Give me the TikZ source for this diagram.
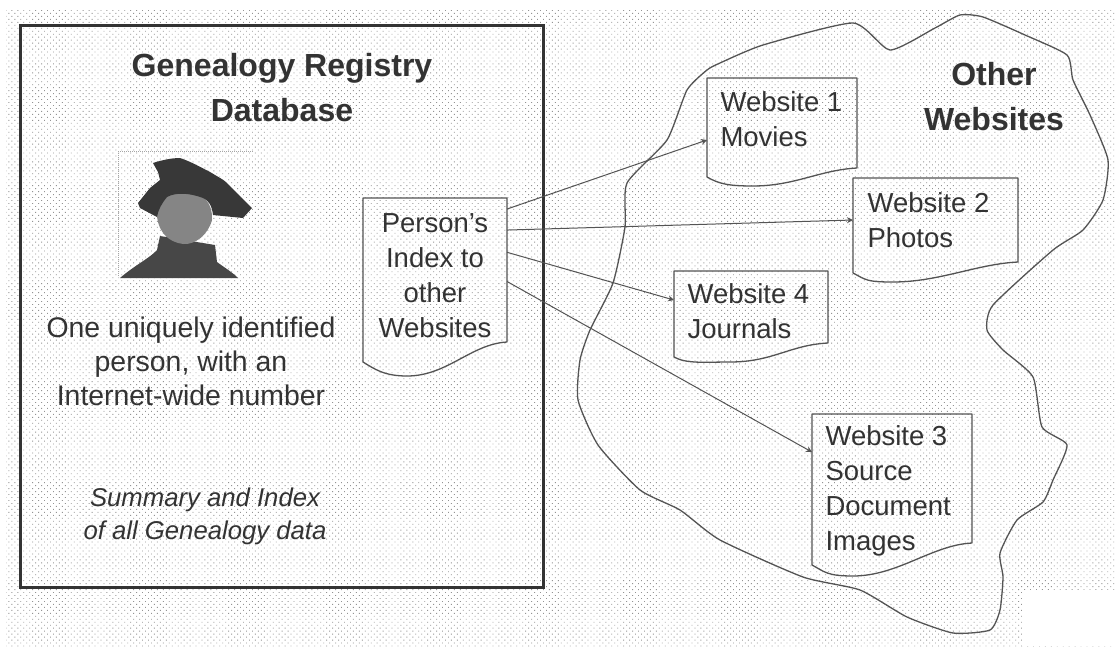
\documentclass[tikz,border=0pt]{standalone}
\usepackage{fontspec}
\setmainfont{Liberation Sans}
\usetikzlibrary{calc,arrows.meta,patterns.meta}
\definecolor{ink}{gray}{0.2}
\definecolor{wire}{gray}{0.33}
\tikzset{
  page/.style={pattern={Dots[distance=4.2pt,radius=0.62pt,angle=45]},pattern color=black!42},
  frame/.style={draw=ink,line width=3pt,outer sep=0pt,inner sep=0pt},
  docline/.style={draw=wire,line width=1.3pt,line join=round},
  doc/.style={inner sep=0pt,outer sep=0pt},
  cloud/.style={draw=wire,line width=1.3pt,line join=round},
  conn/.style={draw=wire,line width=1pt,-{Stealth[length=6pt,width=6pt]}},
  title/.style={font=\bfseries\fontsize{32}{45}\selectfont,align=center,text=ink},
  body/.style={font=\fontsize{28.4}{34}\selectfont,align=center,text=ink},
  sitetext/.style={font=\fontsize{27.5}{35}\selectfont,align=left,anchor=north west,text=ink},
  note/.style={font=\itshape\fontsize{25.7}{33}\selectfont,align=center,text=ink},
}
% #1 name, #2 x1, #3 y1, #4 x2, #5 y right foot, #6 y left foot, #7 low x, #8 low y
\newcommand{\docshape}[8]{%
  \node[doc,minimum width={#4pt-#2pt},minimum height={#8pt-#3pt},anchor=north west] (#1) at (#2,#3) {};
  \draw[docline] (#1.north west) -- (#1.north east) -- (#4,#5)
    .. controls ({#4-0.25*(#4-#2)},{#5+2}) and ({#7+0.28*(#4-#2)},#8) .. (#7,#8)
    .. controls ({#7-0.16*(#4-#2)},#8) and ({#2+0.08*(#4-#2)},{#6+7}) .. (#2,#6) -- cycle;
}
\begin{document}
\begin{tikzpicture}[x=1pt,y=-1pt]
\useasboundingbox (0,0) rectangle (1115,646);
\fill[white] (0,0) rectangle (1115,646);
\path[page] (6,9) rectangle (1115,646);
\fill[white] (1022,590) rectangle (1115,646);

% database frame
\node[frame,minimum width=523pt,minimum height=562pt,anchor=north west] (db) at (20,25) {};
\node[title] (dbtitle) at (282,88) {Genealogy Registry\\Database};

% portrait
\draw[gray!70,line width=1pt,densely dotted] (118,151) -- (254,151);
\draw[gray!70,line width=1pt,densely dotted] (118,151) -- (118,277);
\fill[black!72] (120,278) .. controls (135,265) and (150,258) .. (157,250) -- (160,236) -- (215,245) -- (217,262) .. controls (225,268) and (232,272) .. (238,278) -- cycle;
\fill[black!48] (157,217) .. controls (155,195) and (170,188) .. (186,192) .. controls (205,192) and (213,205) .. (212,220) .. controls (208,235) and (195,245) .. (183,244) .. controls (168,242) and (159,232) .. (157,217) -- cycle;
\fill[black!78] (153,163) .. controls (162,160) and (172,158) .. (180,158) .. controls (192,162) and (202,168) .. (210,172) .. controls (220,178) and (224,180) .. (227,183) -- (252,208) -- (243,218) -- (213,215) .. controls (212,205) and (208,200) .. (203,198) .. controls (190,193) and (176,192) .. (167,197) .. controls (162,203) and (158,210) .. (157,217) -- (140,208) -- (138,203) -- (150,188) -- (160,180) -- (158,172) -- cycle;

\node[body] (persontext) at (191,361) {One uniquely identified\\person, with an\\Internet-wide number};
\node[note] (notetext) at (205,516) {Summary and Index\\of all Genealogy data};

% index document
\docshape{person}{363}{198}{507}{342}{362}{407}{376}
\node[font=\fontsize{27.5}{35}\selectfont,align=center,text=ink] (persontxt) at (435,276) {Person's\\Index to\\other\\Websites};

% cloud
\draw[cloud,smooth cycle,tension=0.35] plot coordinates {
 (720,63) (763,45) (853,23) (890,50) (935,28) (960,15) (983,17) (1025,35) (1067,55) (1073,80) (1090,115)
 (1108,160) (1103,200) (1083,230) (1053,250) (993,305) (987,330) (1003,350) (1033,377) (1042,427)
 (1067,445) (1053,480) (1043,502) (1017,520) (1000,553) (1003,577) (1000,610) (990,630) (953,633)
 (907,617) (860,590) (803,577) (720,540) (680,510) (640,490) (598,445) (578,400) (580,360)
 (590,330) (613,283) (625,227) (627,183) (667,140) (687,90) (707,70)};
\node[title] (othertxt) at (994,97) {Other\\Websites};

% website documents
\docshape{wone}{707}{78}{857}{168}{177}{753}{186}
\node[sitetext] (wonetxt) at (717,88) {Website 1\\Movies};
\docshape{wtwo}{853}{178}{1018}{262}{273}{893}{282}
\node[sitetext] (wtwotxt) at (864,189) {Website 2\\Photos};
\docshape{wfour}{674}{271}{828}{343}{357}{730}{362}
\node[sitetext] (wfourtxt) at (684,280) {Website 4\\Journals};
\docshape{wthree}{812}{414}{972}{543}{565}{853}{576}
\node[sitetext] (wthreetxt) at (822,422) {Website 3\\Source\\Document\\Images};

% connectors
\draw[conn] ($(person.north east)!0.062!(person.south east)$) -- ($(wone.north west)!0.574!(wone.south west)$);
\draw[conn] ($(person.north east)!0.18!(person.south east)$) -- ($(wtwo.north west)!0.404!(wtwo.south west)$);
\draw[conn] ($(person.north east)!0.305!(person.south east)$) -- ($(wfour.north west)!0.319!(wfour.south west)$);
\draw[conn] ($(person.north east)!0.469!(person.south east)$) -- ($(wthree.north west)!0.235!(wthree.south west)$);
\end{tikzpicture}
\end{document}
